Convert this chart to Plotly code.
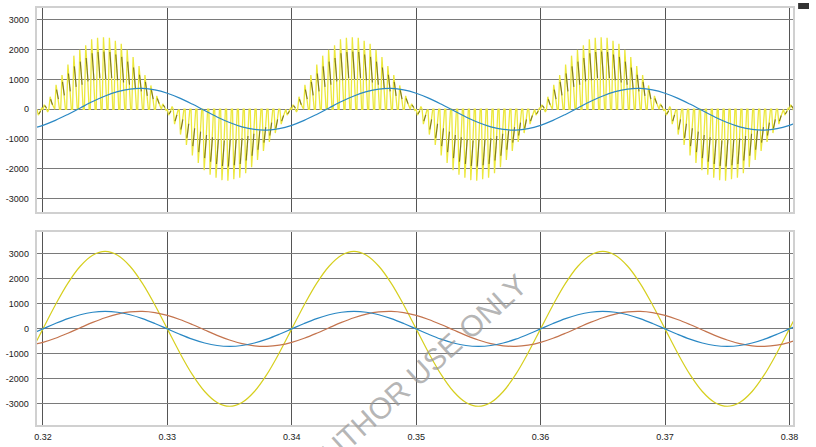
import plotly.graph_objects as go

# ---------------- data ----------------
# sample times (s) for the smooth waveforms, 1 ms apart
t_smooth = [round(0.319 + 0.001 * i, 3) for i in range(63)]

# top panel: blue fundamental (same as red in bottom panel)
blue_top = [-651, -539, -375, -174, 44, 258, 446, 591, 678, 699, 651, 539, 375, 174, -44, -258, -446, -591, -678, -699,
            -651, -539, -375, -174, 44, 258, 446, 591, 678, 699, 651, 539, 375, 174, -44, -258, -446, -591, -678, -699,
            -651, -539, -375, -174, 44, 258, 446, 591, 678, 699, 651, 539, 375, 174, -44, -258, -446, -591, -678, -699,
            -651, -539, -375]

# bottom panel
yellow_bot = [-958, 0, 958, 1822, 2508, 2948, 3100, 2948, 2508, 1822, 958, 0, -958, -1822, -2508, -2948, -3100, -2948, -2508, -1822,
              -958, 0, 958, 1822, 2508, 2948, 3100, 2948, 2508, 1822, 958, 0, -958, -1822, -2508, -2948, -3100, -2948, -2508, -1822,
              -958, 0, 958, 1822, 2508, 2948, 3100, 2948, 2508, 1822, 958, 0, -958, -1822, -2508, -2948, -3100, -2948, -2508, -1822,
              -958, 0, 958]
blue_bot = [-216, 0, 216, 412, 566, 666, 700, 666, 566, 412, 216, 0, -216, -412, -566, -666, -700, -666, -566, -412,
            -216, 0, 216, 412, 566, 666, 700, 666, 566, 412, 216, 0, -216, -412, -566, -666, -700, -666, -566, -412,
            -216, 0, 216, 412, 566, 666, 700, 666, 566, 412, 216, 0, -216, -412, -566, -666, -700, -666, -566, -412,
            -216, 0, 216]
red_bot = blue_top

# top panel chopped (switched) waveform: pulse levels per half cycle
half_starts = [0.31, 0.32, 0.33, 0.34, 0.35, 0.36, 0.37, 0.38]
half_sign = ["neg", "pos", "neg", "pos", "neg", "pos", "neg", "pos"]
pos_peaks = [150, 420, 820, 1150, 1500, 1800, 2000, 2150, 2350, 2400, 2420, 2400, 2300, 2200, 2000, 1750, 1450, 1150, 800, 450, 180]
pos_mids = [60, 200, 450, 620, 800, 1000, 1100, 1250, 1300, 1400, 1350, 1400, 1300, 1200, 1100, 950, 800, 600, 450, 250, 80]
pos_lows = [-90, 40, 0, 0, 0, 0, 0, 0, 0, 0, 0, 0, 0, 0, 0, 0, 0, 0, 0, 60, -40]
neg_peaks = [-200, -500, -850, -1200, -1550, -1800, -2050, -2200, -2300, -2380, -2400, -2350, -2300, -2150, -1950, -1700, -1400, -1100, -800, -500, -200]
neg_mids = [-80, -250, -450, -650, -850, -1000, -1150, -1250, -1350, -1400, -1350, -1350, -1300, -1200, -1100, -950, -800, -600, -450, -280, -90]
neg_lows = [90, -40, 0, 0, 0, 0, 0, 0, 0, 0, 0, 0, 0, 0, 0, 0, 0, 0, 0, -60, 40]

x_ticks = [0.32, 0.33, 0.34, 0.35, 0.36, 0.37, 0.38]
x_tick_text = ["0.32", "0.33", "0.34", "0.35", "0.36", "0.37", "0.38"]
y_ticks = [-3000, -2000, -1000, 0, 1000, 2000, 3000]
y_tick_text = ["-3000", "-2000", "-1000", "0", "1000", "2000", "3000"]

# ---------------- build chopped trace ----------------
HALF = 0.01
PULSE_FRAC = [0.0, 0.22, 0.5, 0.8]
xs, ys, dxs, dys = [], [], [], []
for start, sgn in zip(half_starts, half_sign):
    peaks = pos_peaks if sgn == "pos" else neg_peaks
    mids = pos_mids if sgn == "pos" else neg_mids
    lows = pos_lows if sgn == "pos" else neg_lows
    n = len(peaks)
    dt = HALF / n
    for k in range(n):
        base = start + k * dt
        vals = [0, peaks[k], mids[k], lows[k]]
        for f, v in zip(PULSE_FRAC, vals):
            xs.append(base + f * dt)
            ys.append(v)
        dxs += [base + 0.3 * dt, base + 0.5 * dt, base + 0.62 * dt, None]
        dys += [peaks[k] * 0.8, mids[k], mids[k] * 0.75, None]

fig = go.Figure()

YEL = "#ece83c"
fig.add_trace(go.Scatter(x=xs, y=ys, mode="lines", line=dict(color=YEL, width=1.3),
                         xaxis="x", yaxis="y", hoverinfo="skip"))
fig.add_trace(go.Scatter(x=dxs, y=dys, mode="lines", line=dict(color="rgba(95,90,25,0.8)", width=1.1),
                         xaxis="x", yaxis="y", hoverinfo="skip", connectgaps=False))
fig.add_trace(go.Scatter(x=t_smooth, y=blue_top, mode="lines", line=dict(color="#2a88c4", width=1.2, shape="spline"),
                         xaxis="x", yaxis="y"))

fig.add_trace(go.Scatter(x=t_smooth, y=yellow_bot, mode="lines", line=dict(color="#d6cf1e", width=1.2, shape="spline"),
                         xaxis="x2", yaxis="y2"))
fig.add_trace(go.Scatter(x=t_smooth, y=red_bot, mode="lines", line=dict(color="#c4744e", width=1.2, shape="spline"),
                         xaxis="x2", yaxis="y2"))
fig.add_trace(go.Scatter(x=t_smooth, y=blue_bot, mode="lines", line=dict(color="#2a88c4", width=1.2, shape="spline"),
                         xaxis="x2", yaxis="y2"))

W, H = 816, 447
xdom = [35 / W, 798 / W]
top_dom = [1 - 212 / H, 1 - 8 / H]
bot_dom = [1 - 425 / H, 1 - 232 / H]

tickfont = dict(family="Liberation Sans, Arial", size=9, color="#1a1a1a")
common_x = dict(range=[0.3195, 0.3803], tickvals=x_ticks, ticktext=x_tick_text,
                showgrid=True, gridcolor="#555555", gridwidth=1, zeroline=False,
                showline=True, linecolor="#d0d0d0", linewidth=2, mirror=True,
                ticks="", tickfont=tickfont, domain=xdom)
common_y = dict(tickvals=y_ticks, ticktext=y_tick_text, showgrid=True, gridcolor="#7a7a7a",
                gridwidth=1, zeroline=False, showline=True, linecolor="#d0d0d0", linewidth=2,
                mirror=True, ticks="", tickfont=tickfont, ticklabelstandoff=4)

fig.update_layout(
    width=W, height=H,
    margin=dict(l=0, r=0, t=0, b=0),
    paper_bgcolor="white", plot_bgcolor="white",
    showlegend=False,
    xaxis=dict(common_x, showticklabels=False, anchor="y"),
    yaxis=dict(common_y, range=[-3450, 3400], domain=top_dom, anchor="x"),
    xaxis2=dict(common_x, showticklabels=True, anchor="y2", ticklabelstandoff=2),
    yaxis2=dict(common_y, range=[-3850, 3880], domain=bot_dom, anchor="x2"),
    annotations=[dict(text="FOR AUTHOR USE ONLY", xref="paper", yref="paper",
                      x=392 / W, y=1 - 398 / H, xanchor="center", yanchor="middle",
                      showarrow=False, textangle=-42,
                      font=dict(family="Liberation Sans, Arial", size=30, color="rgba(150,150,150,0.7)"))],
    shapes=[dict(type="rect", xref="paper", yref="paper",
                 x0=803 / W, x1=814 / W, y0=1 - 9 / H, y1=1 - 3 / H,
                 fillcolor="#333333", line=dict(width=0))],
)

fig.write_html("out.html")
